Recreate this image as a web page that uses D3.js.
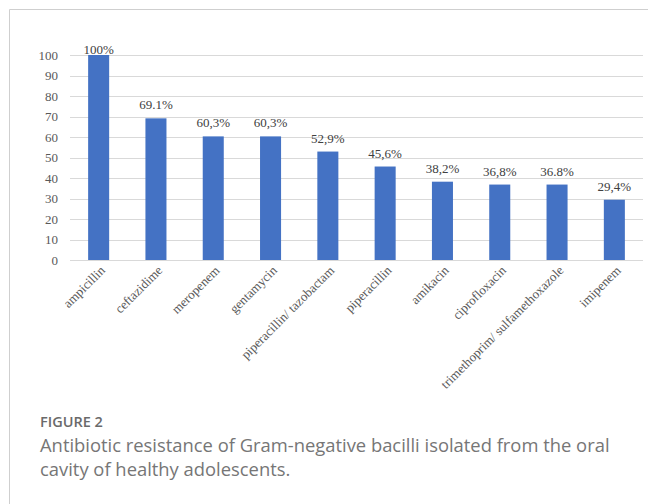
<!DOCTYPE html>
<html>
<head>
<meta charset="utf-8">
<script src="https://cdn.jsdelivr.net/npm/d3@7"></script>
<style>
  html, body { margin: 0; padding: 0; background: #fff; }
  svg { display: block; }
</style>
</head>
<body>
<svg id="chart" width="648" height="504"></svg>
<script>
// Antibiotic resistance (%) of Gram-negative bacilli
const categories = [
  "ampicillin", "ceftazidime", "meropenem", "gentamycin",
  "piperacillin/ tazobactam", "piperacillin", "amikacin",
  "ciprofloxacin", "trimethoprim/ sulfamethoxazole", "imipenem"
];
const resistance = [100, 69.1, 60.3, 60.3, 52.9, 45.6, 38.2, 36.8, 36.8, 29.4];
const valueLabels = ["100%", "69.1%", "60,3%", "60,3%", "52,9%", "45,6%", "38,2%", "36,8%", "36.8%", "29,4%"];
const yTicks = [0, 10, 20, 30, 40, 50, 60, 70, 80, 90, 100];

const figureLabel = "FIGURE 2";
const captionLines = [
  "Antibiotic resistance of Gram-negative bacilli isolated from the oral",
  "cavity of healthy adolescents."
];

const svg = d3.select("#chart");
const serif = "'Liberation Serif', 'Times New Roman', serif";
const sans = "'Open Sans', 'Noto Sans', sans-serif";

// outer frame (top and left edges visible)
svg.append("path")
  .attr("d", "M9.5,504 V9.5 H648")
  .attr("fill", "none")
  .attr("stroke", "#cfcfcf")
  .attr("stroke-width", 1);

const plot = { left: 70, right: 643, top: 55, bottom: 260 };

const x = d3.scaleBand()
  .domain(categories)
  .range([plot.left, plot.right])
  .paddingInner(0.633)
  .paddingOuter(0.3165);

const y = d3.scaleLinear()
  .domain([0, 100])
  .range([plot.bottom, plot.top]);

// horizontal gridlines
svg.append("g")
  .selectAll("line")
  .data(yTicks)
  .join("line")
  .attr("x1", plot.left)
  .attr("x2", plot.right)
  .attr("y1", d => Math.round(y(d)) + 0.5)
  .attr("y2", d => Math.round(y(d)) + 0.5)
  .attr("stroke", "#d9d9d9")
  .attr("stroke-width", 1);

// y axis labels
const yAxis = d3.axisLeft(y).tickValues(yTicks).tickSize(0).tickPadding(12);
const yG = svg.append("g")
  .attr("transform", `translate(${plot.left},0)`)
  .call(yAxis);
yG.select(".domain").remove();
yG.selectAll("text")
  .attr("font-family", serif)
  .attr("font-size", 13)
  .attr("fill", "#595959");

// bars
svg.append("g")
  .selectAll("rect")
  .data(resistance)
  .join("rect")
  .attr("x", (d, i) => x(categories[i]))
  .attr("width", x.bandwidth())
  .attr("y", d => y(d))
  .attr("height", d => y(0) - y(d))
  .attr("fill", "#4472C4");

// value labels above bars
svg.append("g")
  .selectAll("text")
  .data(resistance)
  .join("text")
  .attr("x", (d, i) => x(categories[i]) + x.bandwidth() / 2)
  .attr("y", d => Math.max(y(d) - 9, plot.top - 1))
  .attr("text-anchor", "middle")
  .attr("font-family", serif)
  .attr("font-size", 13)
  .attr("fill", "#404040")
  .text((d, i) => valueLabels[i]);

// rotated category labels
const xAxis = d3.axisBottom(x).tickSize(0).tickPadding(0);
const xG = svg.append("g")
  .attr("transform", `translate(0,${plot.bottom})`)
  .call(xAxis);
xG.select(".domain").remove();
xG.selectAll("text")
  .attr("font-family", serif)
  .attr("font-size", 13)
  .attr("fill", "#595959")
  .attr("text-anchor", "end")
  .attr("y", 0)
  .attr("dy", "0.35em")
  .attr("transform", "translate(4,8) rotate(-45)");

// figure caption
svg.append("text")
  .attr("x", 40)
  .attr("y", 427)
  .attr("font-family", sans)
  .attr("font-size", 14.5)
  .attr("font-weight", 600)
  .attr("fill", "#6a6a6a")
  .text(figureLabel);

const cap = svg.append("g");
captionLines.forEach((line, i) => {
  cap.append("text")
    .attr("x", 40)
    .attr("y", 452 + i * 24)
    .attr("font-family", sans)
    .attr("font-size", 18)
    .attr("fill", "#767676")
    .text(line);
});
// size the caption so the first line spans the text column
const firstLine = cap.select("text").node();
const w = firstLine.getComputedTextLength();
const fs = 18 * 570 / w;
cap.selectAll("text").attr("font-size", fs);
</script>
</body>
</html>
